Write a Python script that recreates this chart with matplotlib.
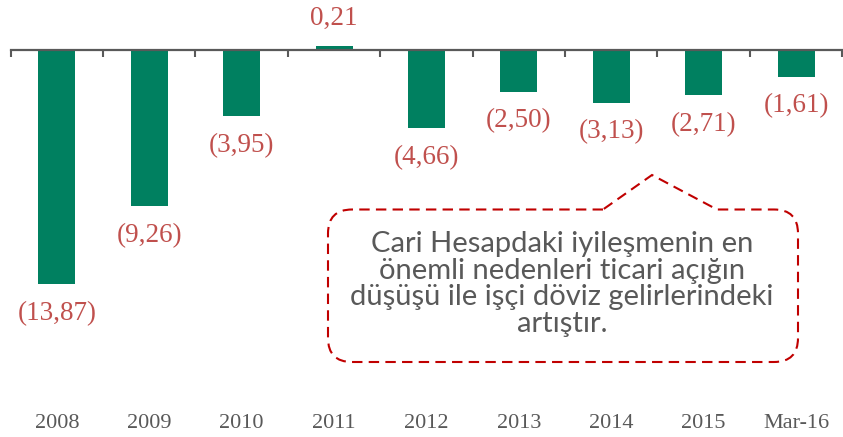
import numpy as np
import matplotlib
matplotlib.use("Agg")
import matplotlib.pyplot as plt
from matplotlib.path import Path
from matplotlib.patches import PathPatch

categories = ["2008", "2009", "2010", "2011", "2012", "2013", "2014", "2015", "Mar-16"]
values = [-13.87, -9.26, -3.95, 0.21, -4.66, -2.50, -3.13, -2.71, -1.61]
note = ("Cari Hesapdaki iyileşmenin en\nönemli nedenleri ticari açığın\n"
        "düşüşü ile işçi döviz gelirlerindeki\nartıştır.")

W, H = 843, 437
fig = plt.figure(figsize=(W / 100, H / 100), dpi=100)
left_px, right_px = 10.7, 842.3
ax = fig.add_axes([left_px / W, 0, (right_px - left_px) / W, 1])

x = np.arange(len(categories))
bar_color = "#008060"
ax.bar(x, values, width=0.4, color=bar_color, zorder=1)

zero_px = 49.5
scale = 16.94  # px per unit
ax.set_xlim(-0.5, len(categories) - 0.5)
ax.set_ylim(-(H - zero_px) / scale, zero_px / scale)

for s in ["left", "right", "top"]:
    ax.spines[s].set_visible(False)
ax.spines["bottom"].set_position(("data", 0))
ax.spines["bottom"].set_color("#595959")
ax.spines["bottom"].set_linewidth(1.6)
ax.spines["bottom"].set_zorder(3)
ax.set_yticks([])
ax.set_xticks(np.arange(-0.5, len(categories), 1.0))
ax.tick_params(axis="x", direction="out", length=5, width=1.5, color="#595959",
               labelbottom=False)
ax.patch.set_visible(False)

gray = "#595959"
red = "#C0504D"
for xi, cat in zip(x, categories):
    ax.text(xi, 1 - 424 / H, cat, transform=ax.get_xaxis_transform(),
            ha="center", va="center", fontsize=16, color=gray,
            family="Liberation Serif")

for xi, v in zip(x, values):
    s = f"{abs(v):.2f}".replace(".", ",")
    if v < 0:
        s = f"({s})"
    off = 20 if v > 0 else -21
    ax.annotate(s, (xi, v), xytext=(0, off), textcoords="offset points",
                ha="center", va="center", fontsize=19.5, color=red,
                family="Liberation Serif")

# Callout box (pixel coordinates from the top-left, converted to figure fraction)
L, R, T, B, r = 328, 798, 209.5, 362, 24
p1x, apx, apy, p2x = 603, 652, 175, 717
verts = []
codes = []
def P(px, py):
    return (px / W, 1 - py / H)
verts += [P(p1x, T)]; codes += [Path.MOVETO]
verts += [P(L + r, T)]; codes += [Path.LINETO]
verts += [P(L, T), P(L, T + r)]; codes += [Path.CURVE3, Path.CURVE3]
verts += [P(L, B - r)]; codes += [Path.LINETO]
verts += [P(L, B), P(L + r, B)]; codes += [Path.CURVE3, Path.CURVE3]
verts += [P(R - r, B)]; codes += [Path.LINETO]
verts += [P(R, B), P(R, B - r)]; codes += [Path.CURVE3, Path.CURVE3]
verts += [P(R, T + r)]; codes += [Path.LINETO]
verts += [P(R, T), P(R - r, T)]; codes += [Path.CURVE3, Path.CURVE3]
verts += [P(p2x, T)]; codes += [Path.LINETO]
verts += [P(apx, apy)]; codes += [Path.LINETO]
verts += [P(p1x, T)]; codes += [Path.LINETO]
patch = PathPatch(Path(verts, codes), transform=fig.transFigure, facecolor="white",
                  edgecolor="#C00000", linewidth=1.5, linestyle=(0, (5, 3)), zorder=5)
fig.patches.append(patch)

fig.text(562 / W, 1 - 284 / H, note, ha="center", va="center", fontsize=21,
         color=gray, family="Lato", linespacing=1.02, zorder=6)

fig.savefig("out.png", dpi=100)
